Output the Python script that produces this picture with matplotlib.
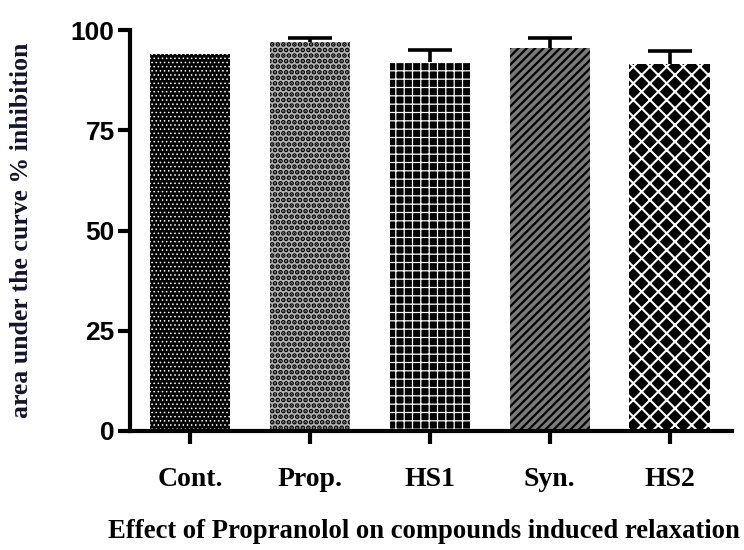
import matplotlib
matplotlib.use("Agg")
import matplotlib.pyplot as plt
import numpy as np

# Data
categories = ["Cont.", "Prop.", "HS1", "Syn.", "HS2"]
means = [94.0, 97.0, 92.0, 95.5, 91.5]
sem = [0.0, 1.1, 2.9, 2.5, 3.3]
yticks = [0, 25, 50, 75, 100]

# Fill styles per group: (face, hatch colour, hatch, hatch linewidth)
styles = [
    ("#000000", "#ffffff", "....", 0.6),
    ("#b4b4b4", "#000000", "...", 2.4),
    ("#000000", "#ffffff", "++", 0.9),
    ("#7a7a7a", "#000000", "////", 1.6),
    ("#000000", "#ffffff", "xx", 1.5),
]

fig = plt.figure(figsize=(7.44, 5.5), dpi=100)
ax = fig.add_axes([130 / 744, 1 - 431 / 550, (732 - 130) / 744, 401 / 550])

x = np.arange(len(categories))
for i, (face, hcol, hatch, hlw) in enumerate(styles):
    with plt.rc_context({"hatch.linewidth": hlw, "hatch.color": hcol}):
        b = ax.bar(x[i], means[i], width=0.67, color=face, edgecolor=hcol,
                   linewidth=0, hatch=hatch, zorder=2)
    for p in b.patches:
        if hasattr(p, "set_hatch_linewidth"):
            p.set_hatch_linewidth(hlw)

# Upper error bars (SEM), drawn behind the bars so only the top half shows
sem_arr = np.array(sem)
mask = sem_arr > 0
eb = ax.errorbar(x[mask], np.array(means)[mask],
                 yerr=[np.zeros(mask.sum()), sem_arr[mask]],
                 fmt="none", ecolor="black", elinewidth=2.6, capsize=16,
                 capthick=2.6, zorder=1)
caps = eb.lines[1]
if len(caps) == 2:
    caps[0].set_visible(False)

ax.set_xlim(-0.5, 4.52)
ax.set_ylim(0, 100)
ax.set_yticks(yticks)
ax.set_xticks(x)
ax.set_xticklabels(categories, fontfamily="Liberation Serif",
                   fontweight="bold", fontsize=20)
ax.set_yticklabels([str(t) for t in yticks], fontfamily="Liberation Sans",
                   fontweight="bold", fontsize=19)

for s in ["top", "right"]:
    ax.spines[s].set_visible(False)
for s in ["left", "bottom"]:
    ax.spines[s].set_linewidth(3)
    ax.spines[s].set_capstyle("projecting")

ax.tick_params(axis="y", length=9, width=3, pad=2)
ax.tick_params(axis="x", length=9, width=3, pad=17)

ax.set_ylabel("area under the curve % inhibition", fontfamily="Liberation Serif",
              fontweight="bold", fontsize=18.5, color="#14142a")
ax.yaxis.set_label_coords(-97 / 602, 0.50)

fig.text(740 / 744, 1 - 532 / 550, "Effect of Propranolol on compounds induced relaxation",
         ha="right", va="center", fontfamily="Liberation Serif",
         fontweight="bold", fontsize=19.2)

fig.savefig("out.png", dpi=100)
